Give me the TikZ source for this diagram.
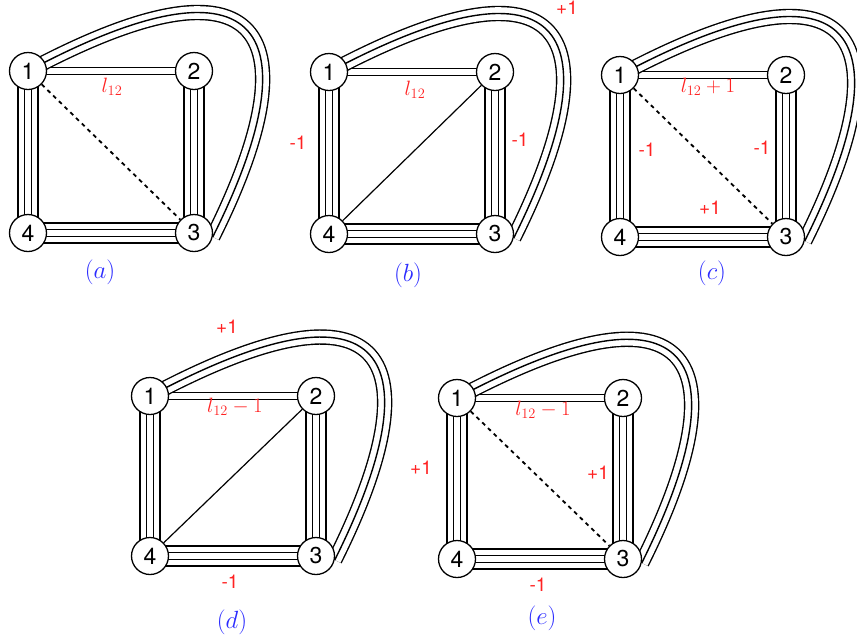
\documentclass[tikz,border=0pt]{standalone}
\usepackage{fontspec}
\setsansfont{TeX Gyre Heros}
\usetikzlibrary{backgrounds}
\definecolor{cDelta}{HTML}{FF2222}
\definecolor{cCap}{HTML}{2B2BFF}
\tikzset{
  vtx/.style={
    circle, draw, line width=1.3pt, fill=white, minimum size=37pt,
    inner sep=0pt, font=\sffamily\fontsize{23}{25}\selectfont
  },
  dbl/.style={draw, double, line width=1.4pt, double distance=6pt},
  tri/.style={
    draw, line width=15.4pt,
    postaction={draw=white, line width=12.6pt},
    postaction={draw=black, line width=1.4pt}
  },
  quad/.style={
    draw, line width=21.2pt,
    postaction={draw=white, line width=18.4pt},
    postaction={draw=black, line width=8pt},
    postaction={draw=white, line width=5.2pt}
  },
  chord/.style={line width=1.2pt},
  dashdiag/.style={line width=1.8pt, dash pattern=on 4pt off 4pt},
  delta/.style={text=cDelta, font=\sffamily\fontsize{19}{21}\selectfont},
  wlabel/.style={text=cDelta, font=\fontsize{21}{23}\selectfont},
  panel/.style={text=cCap, font=\fontsize{23}{25}\selectfont},
}

\begin{document}
\begin{tikzpicture}[x=1pt, y=-1pt]

  \useasboundingbox (0,0) rectangle (857,641);

  % (a)
  \begin{scope}[shift={(28,71)}]
    \node[vtx] (a1) at (0,0) {1};
    \node[vtx] (a2) at (166,0) {2};
    \node[vtx] (a4) at (0,162) {4};
    \node[vtx] (a3) at (166,162) {3};
    \begin{scope}[on background layer]
      \draw[dbl]  (a1.center) -- (a2.center);
      \draw[quad] (a1.center) -- (a4.center);
      \draw[quad] (a2.center) -- (a3.center);
      \draw[quad] (a4.center) -- (a3.center);
      \draw[tri]  (a1.center) .. controls +(240,-128) and +(100,-200) .. (a3.-12);
    \end{scope}
    \draw[dashdiag] (a1) -- (a3);
    \node[wlabel] (aw) at (84,16) {$l_{12}$};
    \node[panel] (acap) at (72,201) {$(a)$};
  \end{scope}

  % (b)
  \begin{scope}[shift={(329,72)}]
    \node[vtx] (b1) at (0,0) {1};
    \node[vtx] (b2) at (166,0) {2};
    \node[vtx] (b4) at (0,162) {4};
    \node[vtx] (b3) at (166,162) {3};
    \begin{scope}[on background layer]
      \draw[dbl]  (b1.center) -- (b2.center);
      \draw[quad] (b1.center) -- (b4.center);
      \draw[quad] (b2.center) -- (b3.center);
      \draw[quad] (b4.center) -- (b3.center);
      \draw[tri]  (b1.center) .. controls +(240,-128) and +(100,-200) .. (b3.-12);
    \end{scope}
    \draw[chord] (b2) -- (b4);
    \node[wlabel] (bw) at (86,18) {$l_{12}$};
    \node[delta] (bl) at (-31,71) {-1};
    \node[delta] (br) at (191,68) {-1};
    \node[delta] (bt) at (238,-64) {+1};
    \node[panel] (bcap) at (79,203) {$(b)$};
  \end{scope}

  % (c)
  \begin{scope}[shift={(620,75)}]
    \node[vtx] (c1) at (0,0) {1};
    \node[vtx] (c2) at (166,0) {2};
    \node[vtx] (c4) at (0,162) {4};
    \node[vtx] (c3) at (166,162) {3};
    \begin{scope}[on background layer]
      \draw[dbl]  (c1.center) -- (c2.center);
      \draw[quad] (c1.center) -- (c4.center);
      \draw[quad] (c2.center) -- (c3.center);
      \draw[quad] (c4.center) -- (c3.center);
      \draw[tri]  (c1.center) .. controls +(240,-128) and +(100,-200) .. (c3.-12);
    \end{scope}
    \draw[dashdiag] (c1) -- (c3);
    \node[wlabel] (cw) at (88,12) {$l_{12}+1$};
    \node[delta] (cl) at (27,75) {-1};
    \node[delta] (cr) at (142,73) {-1};
    \node[delta] (cb) at (90,133) {+1};
    \node[panel] (ccap) at (92,198) {$(c)$};
  \end{scope}

  % (d)
  \begin{scope}[shift={(150,396)}]
    \node[vtx] (d1) at (0,0) {1};
    \node[vtx] (d2) at (166,0) {2};
    \node[vtx] (d4) at (0,160) {4};
    \node[vtx] (d3) at (166,160) {3};
    \begin{scope}[on background layer]
      \draw[dbl]  (d1.center) -- (d2.center);
      \draw[quad] (d1.center) -- (d4.center);
      \draw[quad] (d2.center) -- (d3.center);
      \draw[quad] (d4.center) -- (d3.center);
      \draw[tri]  (d1.center) .. controls +(240,-128) and +(100,-200) .. (d3.-12);
    \end{scope}
    \draw[chord] (d2) -- (d4);
    \node[delta] (dt) at (77,-69) {+1};
    \node[wlabel] (dw) at (85,11) {$l_{12}-1$};
    \node[delta] (db) at (80,186) {-1};
    \node[panel] (dcap) at (82,226) {$(d)$};
  \end{scope}

  % (e)
  \begin{scope}[shift={(457,398)}]
    \node[vtx] (e1) at (0,0) {1};
    \node[vtx] (e2) at (166,0) {2};
    \node[vtx] (e4) at (0,161) {4};
    \node[vtx] (e3) at (166,161) {3};
    \begin{scope}[on background layer]
      \draw[dbl]  (e1.center) -- (e2.center);
      \draw[quad] (e1.center) -- (e4.center);
      \draw[quad] (e2.center) -- (e3.center);
      \draw[quad] (e4.center) -- (e3.center);
      \draw[tri]  (e1.center) .. controls +(240,-128) and +(100,-200) .. (e3.-12);
    \end{scope}
    \draw[dashdiag] (e1) -- (e3);
    \node[delta] (el) at (-36,70) {+1};
    \node[wlabel] (ew) at (86,12) {$l_{12}-1$};
    \node[delta] (er) at (141,75) {+1};
    \node[delta] (eb) at (81,187) {-1};
    \node[panel] (ecap) at (85,220) {$(e)$};
  \end{scope}

\end{tikzpicture}
\end{document}
